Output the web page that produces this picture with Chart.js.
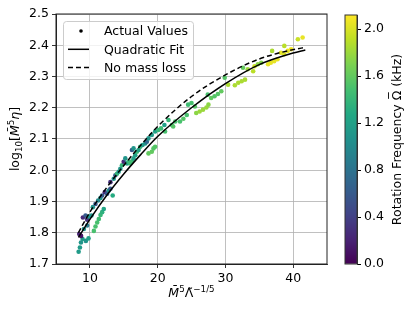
<!DOCTYPE html>
<html>
<head>
<meta charset="utf-8">
<script src="https://cdn.jsdelivr.net/npm/chart.js@4"></script>
<style>
  html, body { margin: 0; padding: 0; background: #fff; }
  #wrap { position: relative; width: 415px; height: 311px; }
  #main { position: absolute; left: 0; top: 0; }
  #cbar { position: absolute; left: 335px; top: 0; }
</style>
</head>
<body>
<div id="wrap">
  <canvas id="main" width="415" height="311"></canvas>
  <canvas id="cbar" width="80" height="311"></canvas>
</div>
<script>
// ---- data ----
const xVals = [8.34, 8.53, 8.68, 8.92, 9.41, 9.80, 8.43, 8.70, 9.12, 9.60, 8.97, 9.36, 9.60, 9.85, 10.24,
  10.59, 10.83, 11.08, 11.32, 11.57, 11.81, 12.05, 10.44, 10.83, 11.22, 11.56, 11.81, 12.20, 12.54, 12.79,
  13.03, 13.37, 13.03, 13.52, 13.77, 14.00, 14.25, 14.50, 14.74, 14.99, 15.23, 15.48, 15.72, 15.97, 16.21,
  16.45, 16.70, 16.94, 17.19, 16.21, 16.45, 17.43, 17.77, 18.17, 18.41, 18.65, 18.65, 19.14, 19.39, 19.63,
  19.14, 19.63, 20.10, 20.50, 21.00, 21.10, 22.10, 22.60, 21.60, 22.30, 23.30, 23.80, 24.30, 24.50, 25.00,
  25.50, 25.70, 26.20, 26.70, 27.20, 27.50, 27.90, 28.40, 28.90, 27.40, 29.40, 29.90, 30.40, 31.40, 31.90,
  32.40, 32.90, 32.60, 33.30, 34.10, 34.30, 34.80, 35.30, 36.30, 36.70, 37.20, 37.70, 36.90, 38.20, 38.70,
  39.20, 39.70, 40.70, 41.40, 38.70];
const yVals = [1.739, 1.753, 1.769, 1.780, 1.774, 1.782, 1.796, 1.790, 1.812, 1.823, 1.849, 1.855, 1.842, 1.852, 1.855,
  1.806, 1.820, 1.833, 1.844, 1.857, 1.866, 1.876, 1.882, 1.892, 1.903, 1.911, 1.919, 1.930, 1.925, 1.935,
  1.941, 1.919, 1.962, 1.973, 1.984, 1.989, 1.995, 2.005, 2.016, 2.027, 2.038, 2.022, 2.027, 2.022, 2.029,
  2.038, 2.048, 2.059, 2.065, 2.065, 2.070, 2.075, 2.081, 2.086, 2.091, 2.102, 2.054, 2.059, 2.070, 2.075,
  2.113, 2.124, 2.129, 2.134, 2.145, 2.124, 2.145, 2.156, 2.161, 2.140, 2.156, 2.165, 2.177, 2.210, 2.215,
  2.204, 2.183, 2.188, 2.194, 2.201, 2.210, 2.231, 2.237, 2.244, 2.242, 2.253, 2.296, 2.274, 2.272, 2.280,
  2.285, 2.290, 2.328, 2.323, 2.317, 2.333, 2.339, 2.344, 2.339, 2.344, 2.349, 2.355, 2.382, 2.376, 2.398,
  2.382, 2.387, 2.419, 2.425, 2.371];
const freqVals = [1.15, 1.15, 1.10, 1.15, 1.10, 1.20, 0.20, 0.10, 1.10, 0.90, 0.25, 0.60, 0.30, 1.10, 1.10,
  1.50, 1.50, 1.50, 1.45, 1.40, 1.35, 1.25, 1.10, 0.60, 1.00, 1.10, 0.60, 0.25, 0.60, 1.10,
  0.60, 1.30, 0.30, 1.10, 0.60, 1.40, 1.15, 1.10, 1.40, 0.25, 1.10, 1.20, 1.40, 1.45, 1.45,
  1.20, 1.20, 1.40, 1.20, 0.60, 1.10, 1.40, 1.15, 1.10, 0.70, 1.10, 1.60, 1.60, 1.55, 1.55,
  1.15, 1.20, 1.40, 1.45, 1.20, 1.50, 1.50, 1.50, 1.40, 1.55, 1.50, 1.55, 1.50, 1.45, 1.50,
  1.55, 1.75, 1.80, 1.80, 1.80, 1.75, 1.60, 1.55, 1.55, 1.50, 1.60, 1.55, 1.85, 1.85, 1.85,
  1.85, 1.85, 1.60, 1.80, 1.90, 1.95, 1.75, 1.70, 2.05, 2.05, 2.05, 2.05, 1.85, 2.05, 1.90,
  2.05, 2.08, 1.95, 2.05, 2.00];

const fitX   = [8.3, 10, 12.5, 15, 17.5, 20, 25, 30, 35, 40, 41.8];
const fitY   = [1.785, 1.843, 1.920, 1.988, 2.050, 2.108, 2.200, 2.277, 2.338, 2.375, 2.385];
const noLossX = [8.3, 10, 12.5, 15, 17.5, 20, 25, 30, 35, 40, 41.8];
const noLossY = [1.800, 1.866, 1.945, 2.015, 2.080, 2.140, 2.236, 2.305, 2.356, 2.386, 2.393];

const xTicks  = [10, 20, 30, 40];
const yTicks  = [1.7, 1.8, 1.9, 2.0, 2.1, 2.2, 2.3, 2.4, 2.5];
const cbTicks = [0.0, 0.4, 0.8, 1.2, 1.6, 2.0];
const cbMax = 2.12;

// ---- viridis ----
const VIRIDIS = ['#440154', '#482475', '#414487', '#355f8d', '#2a788e', '#21918c', '#22a884', '#44bf70', '#7ad151', '#bddf26', '#fde725'];
function hex2rgb(h) { return [1, 3, 5].map(i => parseInt(h.substr(i, 2), 16)); }
function viridis(t) {
    t = Math.max(0, Math.min(1, t)) * (VIRIDIS.length - 1);
    const i = Math.min(Math.floor(t), VIRIDIS.length - 2), f = t - i;
    const a = hex2rgb(VIRIDIS[i]), b = hex2rgb(VIRIDIS[i + 1]);
    return `rgb(${a.map((v, k) => Math.round(v + (b[k] - v) * f)).join(',')})`;
}

Chart.defaults.font.family = 'DejaVu Sans';
Chart.defaults.color = '#000';
const FS = 12.5;

// text pieces: t text, s size, dy shift, it italic, bar = draw a macron over the piece
function drawRich(ctx, parts, cx, cy, rot) {
    ctx.save();
    ctx.translate(cx, cy); ctx.rotate(rot || 0);
    ctx.fillStyle = '#000'; ctx.strokeStyle = '#000'; ctx.textBaseline = 'alphabetic'; ctx.textAlign = 'left';
    let w = 0;
    parts.forEach(p => {
        p.font = `${p.it ? 'italic ' : ''}${p.s || FS}px DejaVu Sans`;
        ctx.font = p.font; p.w = ctx.measureText(p.t).width; w += p.w;
    });
    let x = -w / 2;
    parts.forEach(p => {
        ctx.font = p.font; ctx.fillText(p.t, x, 4.5 + (p.dy || 0));
        if (p.bar) {
            ctx.lineWidth = 0.9;
            ctx.beginPath(); ctx.moveTo(x + 1.5, -7.5); ctx.lineTo(x + p.w - 1.5, -7.5); ctx.stroke();
        }
        x += p.w;
    });
    ctx.restore();
}

const points = xVals.map((x, i) => ({ x, y: yVals[i] }));
const colors = freqVals.map(f => viridis(f / cbMax));

const decorPlugin = {
    id: 'decor',
    afterDraw(chart) {
        const { ctx, chartArea: a } = chart;
        // frame
        ctx.save();
        ctx.strokeStyle = '#222'; ctx.lineWidth = 1;
        ctx.strokeRect(a.left, a.top, a.right - a.left, a.bottom - a.top);
        ctx.restore();

        // axis titles
        drawRich(ctx, [{ t: 'log' }, { t: '10', s: 8.75, dy: 3 }, { t: '[' }, { t: 'M\u0304', it: true },
            { t: '5', s: 8.75, dy: -5 }, { t: 'η', it: true }, { t: ']' }], 14, (a.top + a.bottom) / 2, -Math.PI / 2);
        drawRich(ctx, [{ t: 'M\u0304', it: true }, { t: '5', s: 8.75, dy: -5 }, { t: 'Λ\u0303' },
            { t: '−1/5', s: 8.75, dy: -5 }], (a.left + a.right) / 2, 292, 0);

        // legend
        const lx = 63, ly = 21, lw = 130, lh = 58;
        ctx.save();
        ctx.fillStyle = 'rgba(255,255,255,0.8)'; ctx.strokeStyle = '#cccccc'; ctx.lineWidth = 1;
        ctx.beginPath(); ctx.roundRect(lx + 0.5, ly + 0.5, lw, lh, 3); ctx.fill(); ctx.stroke();
        ctx.font = `${FS}px DejaVu Sans`; ctx.fillStyle = '#000'; ctx.textBaseline = 'middle';
        chart.data.datasets.forEach((ds, i) => {
            const y = 31 + i * 18.3;
            if (i === 0) {
                ctx.beginPath(); ctx.arc(81, y, 1.8, 0, Math.PI * 2); ctx.fill();
            } else {
                ctx.strokeStyle = '#000'; ctx.lineWidth = 1.5; ctx.setLineDash(ds.borderDash || []);
                ctx.beginPath(); ctx.moveTo(68, y); ctx.lineTo(89, y); ctx.stroke(); ctx.setLineDash([]);
            }
            ctx.fillText(ds.label, 104, y + 1);
        });
        ctx.restore();
    }
};

new Chart(document.getElementById('main'), {
    type: 'scatter',
    data: {
        datasets: [
            { label: 'Actual Values', data: points, pointRadius: 2.3, pointHoverRadius: 2.3,
              pointBackgroundColor: colors, pointBorderWidth: 0, order: 2 },
            { label: 'Quadratic Fit', type: 'line', data: fitX.map((x, i) => ({ x, y: fitY[i] })),
              borderColor: '#000', borderWidth: 1.5, pointRadius: 0, fill: false,
              cubicInterpolationMode: 'monotone', order: 1 },
            { label: 'No mass loss', type: 'line', data: noLossX.map((x, i) => ({ x, y: noLossY[i] })),
              borderColor: '#000', borderWidth: 1.5, borderDash: [5, 3], pointRadius: 0, fill: false,
              cubicInterpolationMode: 'monotone', order: 1 }
        ]
    },
    options: {
        responsive: false,
        animation: false,
        layout: { padding: { top: 14, right: 88, left: 0, bottom: 0 } },
        plugins: { legend: { display: false }, tooltip: { enabled: false } },
        scales: {
            x: {
                type: 'linear', min: 5, max: 45,
                afterBuildTicks: s => { s.ticks = xTicks.map(v => ({ value: v })); },
                afterFit: s => { s.height = 47; },
                grid: { color: '#b0b0b0', lineWidth: 0.8, tickLength: 4, tickColor: '#000' },
                border: { color: '#222', width: 1 },
                ticks: { font: { size: FS }, padding: 3, maxRotation: 0, callback: v => String(v) }
            },
            y: {
                type: 'linear', min: 1.7, max: 2.5,
                afterBuildTicks: s => { s.ticks = yTicks.map(v => ({ value: v })); },
                afterFit: s => { s.width = 56; },
                grid: { color: '#b0b0b0', lineWidth: 0.8, tickLength: 4, tickColor: '#000' },
                border: { color: '#222', width: 1 },
                ticks: { font: { size: FS }, padding: 3, callback: v => v.toFixed(1) }
            }
        }
    },
    plugins: [decorPlugin]
});

// ---- colour bar ----
const cbarPlugin = {
    id: 'cbarDecor',
    afterDraw(chart) {
        const { ctx, chartArea: a } = chart;
        ctx.save();
        ctx.strokeStyle = '#333'; ctx.lineWidth = 1;
        ctx.strokeRect(a.left, a.top, a.right - a.left, a.bottom - a.top);
        ctx.restore();
        drawRich(ctx, [{ t: 'Rotation Frequency ' }, { t: 'Ω', bar: true }, { t: ' (kHz)' }],
            61, (a.top + a.bottom) / 2, -Math.PI / 2);
    }
};

new Chart(document.getElementById('cbar'), {
    type: 'bar',
    data: {
        labels: [''],
        datasets: [{
            data: [cbMax], barPercentage: 1, categoryPercentage: 1, borderWidth: 0,
            backgroundColor: c => {
                const a = c.chart.chartArea;
                if (!a) return '#21918c';
                const g = c.chart.ctx.createLinearGradient(0, a.bottom, 0, a.top);
                VIRIDIS.forEach((col, i) => g.addColorStop(i / (VIRIDIS.length - 1), col));
                return g;
            }
        }]
    },
    options: {
        responsive: false,
        animation: false,
        layout: { padding: { top: 15, left: 10, bottom: 47, right: 0 } },
        plugins: { legend: { display: false }, tooltip: { enabled: false } },
        scales: {
            x: { display: false },
            y: {
                position: 'right', min: 0, max: cbMax,
                afterBuildTicks: s => { s.ticks = cbTicks.map(v => ({ value: v })); },
                afterFit: s => { s.width = 58; },
                grid: { drawOnChartArea: false, tickLength: 4, tickColor: '#000' },
                border: { color: '#333', width: 1 },
                ticks: { font: { size: FS }, padding: 3, callback: v => v.toFixed(1) }
            }
        }
    },
    plugins: [cbarPlugin]
});
</script>
</body>
</html>
